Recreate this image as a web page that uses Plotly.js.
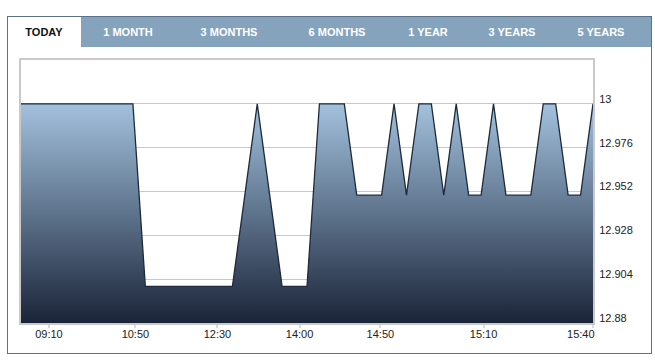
<!DOCTYPE html>
<html>
<head>
<meta charset="utf-8">
<script src="https://cdn.plot.ly/plotly-3.0.1.min.js"></script>
<style>
  html, body { margin: 0; padding: 0; background: #fff; width: 655px; height: 364px; overflow: hidden; }
  #chart { position: absolute; left: 0; top: 0; width: 655px; height: 364px; }
  #frame { position: absolute; left: 7px; top: 16px; width: 643px; height: 336px; border: 1px solid #5b7189; pointer-events: none; }
  #tabs { position: absolute; left: 8px; top: 17px; width: 643px; height: 30px; background: #86a3be; pointer-events: none; }
  #tabs .sel { position: absolute; left: 0; top: 0; width: 73px; height: 30px; background: #fff; }
  #tabs span { position: absolute; top: 9px; font: bold 11px "Liberation Sans", Arial, sans-serif; color: #fff; white-space: nowrap; transform: translateX(-50%); }
  #tabs span.on { color: #111; }
</style>
</head>
<body>
<div id="chart"></div>
<div id="frame"></div>
<div id="tabs"><div class="sel"></div></div>
<script>
// Tabs
const tabLabels = ["TODAY", "1 MONTH", "3 MONTHS", "6 MONTHS", "1 YEAR", "3 YEARS", "5 YEARS"];
const tabCenters = [36, 120, 221, 329, 420, 504, 593];

// Price series (one value per trade, evenly spaced)
const prices = [
  13.00, 13.00, 13.00, 13.00, 13.00, 13.00, 13.00, 13.00, 13.00, 13.00,
  12.90, 12.90, 12.90, 12.90, 12.90, 12.90, 12.90, 12.90,
  12.95, 13.00, 12.95,
  12.90, 12.90, 12.90,
  13.00, 13.00, 13.00,
  12.95, 12.95, 12.95,
  13.00, 12.95, 13.00, 13.00,
  12.95, 13.00, 12.95, 12.95,
  13.00, 12.95, 12.95, 12.95,
  13.00, 13.00, 12.95, 12.95, 13.00
];
const timeLabels = ["09:10", "10:50", "12:30", "14:00", "14:50", "15:10", "15:40"];
const timeLabelIndex = [2.25, 9.2, 15.8, 22.4, 28.9, 37.2, 46];
const yTicks = [12.88, 12.904, 12.928, 12.952, 12.976, 13];
const yTickText = ["12.88", "12.904", "12.928", "12.952", "12.976", "13"];

const tabsEl = document.getElementById("tabs");
tabLabels.forEach((t, i) => {
  const s = document.createElement("span");
  s.textContent = t;
  s.style.left = tabCenters[i] + "px";
  if (i === 0) s.className = "on";
  tabsEl.appendChild(s);
});

const idx = prices.map((_, i) => i);

// last label is right-aligned to the plot edge in the original
const tickText = timeLabels.map((t, i) =>
  i === timeLabels.length - 1 ? t + "\u00a0".repeat(8) : t);

const trace = {
  x: idx,
  y: prices,
  type: "scatter",
  mode: "lines",
  fill: "tozeroy",
  line: { color: "#1c2a3c", width: 1.3 },
  fillgradient: {
    type: "vertical",
    start: 12.88,
    stop: 13.0,
    colorscale: [[0, "#1a2438"], [0.5, "#5e738c"], [1, "#a3c1dd"]]
  },
  hoverinfo: "skip"
};

const layout = {
  width: 655,
  height: 364,
  margin: { l: 21, r: 62, t: 60, b: 41 },
  paper_bgcolor: "rgba(0,0,0,0)",
  plot_bgcolor: "#ffffff",
  showlegend: false,
  font: { family: "Liberation Sans, Arial, sans-serif", size: 11, color: "#222" },
  xaxis: {
    range: [0, 46],
    tickmode: "array",
    tickvals: timeLabelIndex,
    ticktext: tickText,
    showgrid: false,
    zeroline: false,
    showline: true,
    mirror: true,
    linecolor: "#c9c9c9",
    linewidth: 2,
    ticks: "outside",
    ticklen: 3,
    tickwidth: 2,
    tickcolor: "#d3dde8",
    ticklabelstandoff: -3,
    tickfont: { size: 11, color: "#222" },
    fixedrange: true
  },
  yaxis: {
    side: "right",
    range: [12.88, 13.024],
    tickmode: "array",
    tickvals: yTicks,
    ticktext: yTickText,
    showgrid: true,
    gridcolor: "#c8c8c8",
    gridwidth: 1,
    zeroline: false,
    showline: true,
    mirror: true,
    linecolor: "#c9c9c9",
    linewidth: 2,
    ticks: "",
    ticklabelstandoff: 2,
    ticklabelshift: -5,
    tickfont: { size: 11, color: "#222" },
    fixedrange: true
  }
};

Plotly.newPlot("chart", [trace], layout, { displayModeBar: false, staticPlot: true });
</script>
</body>
</html>
